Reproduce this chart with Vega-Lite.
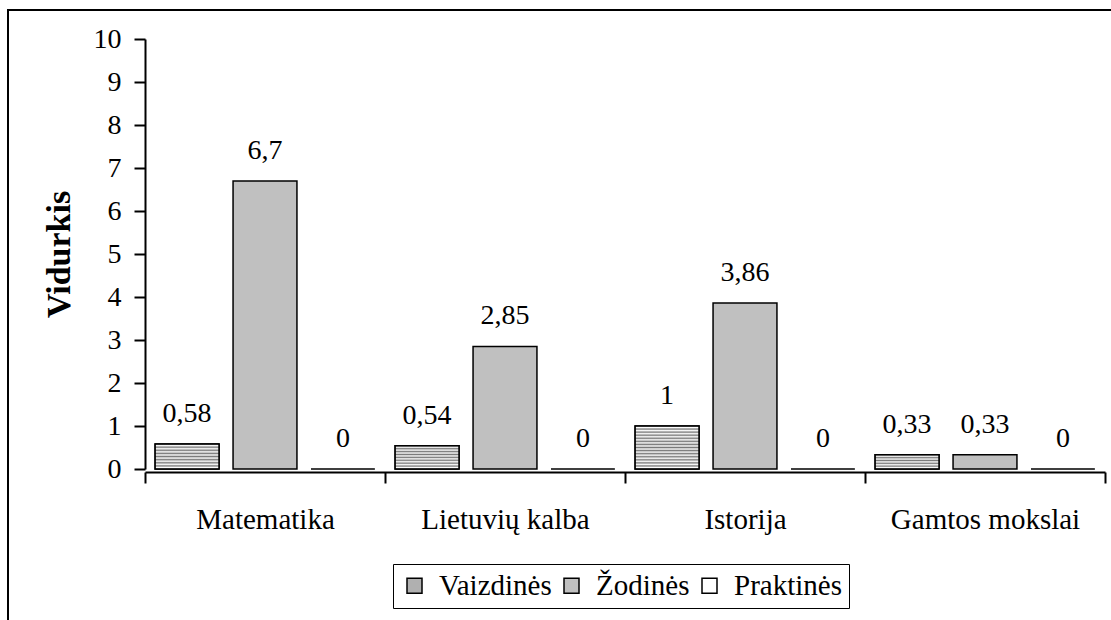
{
  "$schema": "https://vega.github.io/schema/vega-lite/v6.json",
  "width": 1106,
  "height": 613,
  "autosize": {"type": "none"},
  "padding": {"left": 8, "top": 10, "right": -3, "bottom": -3},
  "background": "white",
  "config": {
    "view": {"stroke": "black", "strokeWidth": 2},
    "font": "Liberation Serif",
    "locale": {"number": {"decimal": ",", "thousands": " ", "grouping": [3], "currency": ["", ""]}}
  },
  "data": {
    "values": [
      {"Kategorija": "Matematika", "Tipas": "Vaizdinės", "Reiksme": 0.58},
      {"Kategorija": "Matematika", "Tipas": "Žodinės", "Reiksme": 6.7},
      {"Kategorija": "Matematika", "Tipas": "Praktinės", "Reiksme": 0},
      {"Kategorija": "Lietuvių kalba", "Tipas": "Vaizdinės", "Reiksme": 0.54},
      {"Kategorija": "Lietuvių kalba", "Tipas": "Žodinės", "Reiksme": 2.85},
      {"Kategorija": "Lietuvių kalba", "Tipas": "Praktinės", "Reiksme": 0},
      {"Kategorija": "Istorija", "Tipas": "Vaizdinės", "Reiksme": 1},
      {"Kategorija": "Istorija", "Tipas": "Žodinės", "Reiksme": 3.86},
      {"Kategorija": "Istorija", "Tipas": "Praktinės", "Reiksme": 0},
      {"Kategorija": "Gamtos mokslai", "Tipas": "Vaizdinės", "Reiksme": 0.33},
      {"Kategorija": "Gamtos mokslai", "Tipas": "Žodinės", "Reiksme": 0.33},
      {"Kategorija": "Gamtos mokslai", "Tipas": "Praktinės", "Reiksme": 0}
    ]
  },
  "encoding": {
    "x": {
      "field": "Kategorija",
      "type": "nominal",
      "sort": ["Matematika", "Lietuvių kalba", "Istorija", "Gamtos mokslai"],
      "scale": {"range": [137, 1097], "paddingInner": 0, "paddingOuter": 0},
      "axis": {
        "title": null,
        "tickBand": "extent",
        "tickSize": 11,
        "tickWidth": 2,
        "tickColor": "black",
        "domainColor": "black",
        "domainWidth": 2,
        "labelFont": "Liberation Serif",
        "labelFontSize": 29,
        "labelColor": "black",
        "labelPadding": 22,
        "labelAngle": 0,
        "labelLimit": 400,
        "offset": -151,
        "grid": false
      }
    },
    "xOffset": {
      "field": "Tipas",
      "type": "nominal",
      "scale": {"domain": ["Vaizdinės", "Žodinės", "Praktinės"], "paddingInner": 0.18, "paddingOuter": 0.13}
    },
    "y": {
      "field": "Reiksme",
      "type": "quantitative",
      "scale": {"domain": [0, 10], "range": [459, 29], "nice": false, "zero": true},
      "axis": {
        "title": "Vidurkis",
        "values": [0, 1, 2, 3, 4, 5, 6, 7, 8, 9, 10],
        "grid": false,
        "tickSize": 11,
        "tickWidth": 2,
        "tickColor": "black",
        "domainColor": "black",
        "domainWidth": 2,
        "labelFont": "Liberation Serif",
        "labelFontSize": 28,
        "labelColor": "black",
        "labelPadding": 13,
        "labelFlush": false,
        "labelOverlap": false,
        "titleFont": "Liberation Serif",
        "titleFontSize": 34,
        "titleFontWeight": "bold",
        "titleColor": "black",
        "titlePadding": 17,
        "offset": -137
      }
    }
  },
  "layer": [
    {
      "mark": {"type": "bar", "stroke": "black", "strokeWidth": 1.5},
      "encoding": {
        "color": {
          "field": "Tipas",
          "type": "nominal",
          "scale": {"domain": ["Vaizdinės", "Žodinės", "Praktinės"], "range": ["#b0b0b0", "#c0c0c0", "#ffffff"]},
          "legend": {
            "orient": "none",
            "legendX": 385,
            "legendY": 554,
            "direction": "horizontal",
            "title": null,
            "labelFont": "Liberation Serif",
            "labelFontSize": 29,
            "labelColor": "black",
            "labelLimit": 400,
            "symbolType": "square",
            "symbolSize": 225,
            "symbolStrokeColor": "black",
            "symbolStrokeWidth": 1.5,
            "strokeColor": "black",
            "fillColor": "white",
            "padding": 7,
            "columnPadding": 5,
            "labelOffset": 10
          }
        }
      }
    },
    {
      "transform": [{"filter": "datum.Tipas === 'Vaizdinės'"}],
      "mark": {"type": "bar", "stroke": "black", "strokeWidth": 1.5},
      "encoding": {
        "fill": {
          "condition": [
            {
              "test": "datum.Kategorija === 'Istorija'",
              "value": {
                "gradient": "linear", "x1": 0, "y1": 0, "x2": 0, "y2": 1,
                "stops": [
                  {"offset": 0, "color": "#7a7a7a"}, {"offset": 0.0357, "color": "#ffffff"},
                  {"offset": 0.0714, "color": "#7a7a7a"}, {"offset": 0.1071, "color": "#ffffff"},
                  {"offset": 0.1429, "color": "#7a7a7a"}, {"offset": 0.1786, "color": "#ffffff"},
                  {"offset": 0.2143, "color": "#7a7a7a"}, {"offset": 0.25, "color": "#ffffff"},
                  {"offset": 0.2857, "color": "#7a7a7a"}, {"offset": 0.3214, "color": "#ffffff"},
                  {"offset": 0.3571, "color": "#7a7a7a"}, {"offset": 0.3929, "color": "#ffffff"},
                  {"offset": 0.4286, "color": "#7a7a7a"}, {"offset": 0.4643, "color": "#ffffff"},
                  {"offset": 0.5, "color": "#7a7a7a"}, {"offset": 0.5357, "color": "#ffffff"},
                  {"offset": 0.5714, "color": "#7a7a7a"}, {"offset": 0.6071, "color": "#ffffff"},
                  {"offset": 0.6429, "color": "#7a7a7a"}, {"offset": 0.6786, "color": "#ffffff"},
                  {"offset": 0.7143, "color": "#7a7a7a"}, {"offset": 0.75, "color": "#ffffff"},
                  {"offset": 0.7857, "color": "#7a7a7a"}, {"offset": 0.8214, "color": "#ffffff"},
                  {"offset": 0.8571, "color": "#7a7a7a"}, {"offset": 0.8929, "color": "#ffffff"},
                  {"offset": 0.9286, "color": "#7a7a7a"}, {"offset": 0.9643, "color": "#ffffff"},
                  {"offset": 1, "color": "#7a7a7a"}
                ]
              }
            },
            {
              "test": "datum.Kategorija === 'Gamtos mokslai'",
              "value": {
                "gradient": "linear", "x1": 0, "y1": 0, "x2": 0, "y2": 1,
                "stops": [
                  {"offset": 0, "color": "#7a7a7a"}, {"offset": 0.1, "color": "#ffffff"},
                  {"offset": 0.2, "color": "#7a7a7a"}, {"offset": 0.3, "color": "#ffffff"},
                  {"offset": 0.4, "color": "#7a7a7a"}, {"offset": 0.5, "color": "#ffffff"},
                  {"offset": 0.6, "color": "#7a7a7a"}, {"offset": 0.7, "color": "#ffffff"},
                  {"offset": 0.8, "color": "#7a7a7a"}, {"offset": 0.9, "color": "#ffffff"},
                  {"offset": 1, "color": "#7a7a7a"}
                ]
              }
            }
          ],
          "value": {
            "gradient": "linear", "x1": 0, "y1": 0, "x2": 0, "y2": 1,
            "stops": [
              {"offset": 0, "color": "#7a7a7a"}, {"offset": 0.0625, "color": "#ffffff"},
              {"offset": 0.125, "color": "#7a7a7a"}, {"offset": 0.1875, "color": "#ffffff"},
              {"offset": 0.25, "color": "#7a7a7a"}, {"offset": 0.3125, "color": "#ffffff"},
              {"offset": 0.375, "color": "#7a7a7a"}, {"offset": 0.4375, "color": "#ffffff"},
              {"offset": 0.5, "color": "#7a7a7a"}, {"offset": 0.5625, "color": "#ffffff"},
              {"offset": 0.625, "color": "#7a7a7a"}, {"offset": 0.6875, "color": "#ffffff"},
              {"offset": 0.75, "color": "#7a7a7a"}, {"offset": 0.8125, "color": "#ffffff"},
              {"offset": 0.875, "color": "#7a7a7a"}, {"offset": 0.9375, "color": "#ffffff"},
              {"offset": 1, "color": "#7a7a7a"}
            ]
          }
        }
      }
    },
    {
      "mark": {"type": "text", "dy": -22, "baseline": "alphabetic", "fontSize": 28, "font": "Liberation Serif", "color": "black"},
      "encoding": {
        "text": {"field": "Reiksme", "type": "quantitative", "format": ".3~g"}
      }
    }
  ]
}
